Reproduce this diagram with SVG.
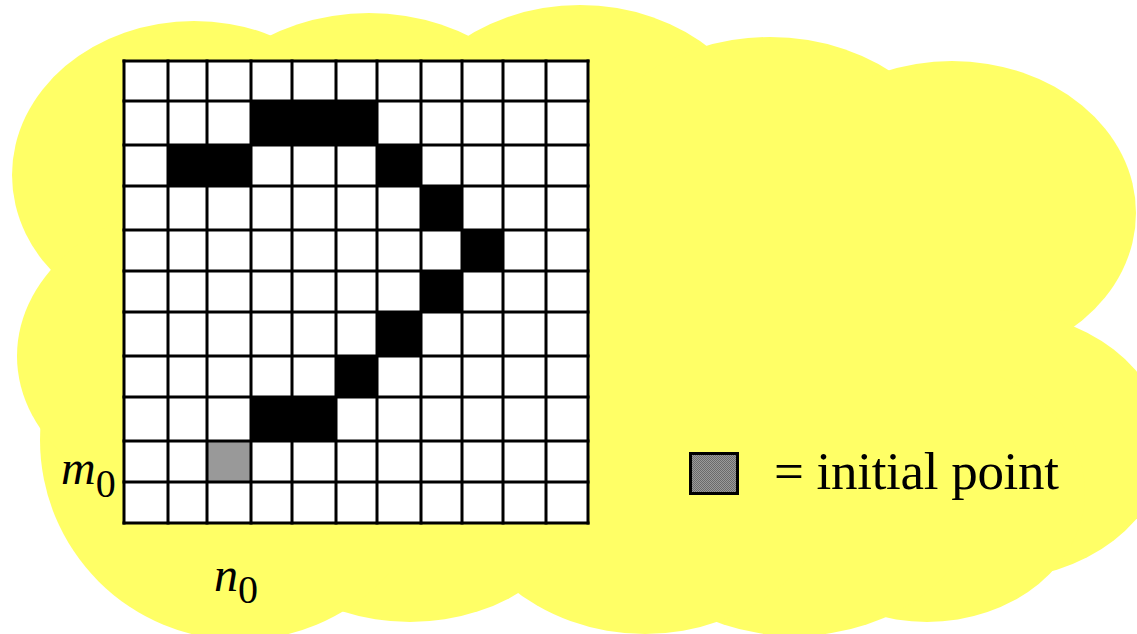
<svg xmlns="http://www.w3.org/2000/svg" width="1137" height="634" viewBox="0 0 1137 634">
  <defs>
    <style>
      .cloud { fill: #FFFF66; stroke: none; }
      .cell-black { fill: #000000; }
      .cell-gray { fill: #999999; }
      .gridline { stroke: #000000; stroke-width: 3; fill: none; stroke-linecap: square; }
      .lbl { font-family: "Liberation Serif", "Times New Roman", serif; fill: #000000; }
    </style>
    <pattern id="dots" width="2" height="2" patternUnits="userSpaceOnUse">
      <rect width="2" height="2" fill="#9a9a9a"/>
      <rect width="1" height="1" fill="#6a6a6a"/>
      <rect x="1" y="1" width="1" height="1" fill="#6a6a6a"/>
    </pattern>
  </defs>
  <rect width="1137" height="634" fill="#FFFFFF"/>
  <g id="cloud">
    <ellipse class="cloud" cx="194" cy="175" rx="182" ry="154"/>
    <ellipse class="cloud" cx="369" cy="163" rx="188" ry="150"/>
    <ellipse class="cloud" cx="580" cy="165" rx="190" ry="160"/>
    <ellipse class="cloud" cx="770" cy="197" rx="195" ry="160"/>
    <ellipse class="cloud" cx="952" cy="213" rx="184" ry="152"/>
    <ellipse class="cloud" cx="990" cy="445" rx="175" ry="135"/>
    <ellipse class="cloud" cx="927" cy="492" rx="158" ry="130"/>
    <ellipse class="cloud" cx="795" cy="486" rx="187" ry="150"/>
    <ellipse class="cloud" cx="645" cy="464" rx="195" ry="170"/>
    <ellipse class="cloud" cx="410" cy="482" rx="178" ry="140"/>
    <circle class="cloud" cx="240" cy="440" r="200"/>
    <ellipse class="cloud" cx="217" cy="356" rx="200" ry="155"/>
    <rect class="cloud" x="150" y="100" width="850" height="460"/>
  </g>
  <g id="grid">
    <rect x="124" y="61" width="464" height="462" fill="#FFFFFF"/>
    <rect class="cell-black" x="251" y="101" width="126" height="44"/>
    <rect class="cell-black" x="168" y="145" width="83" height="41"/>
    <rect class="cell-black" x="377" y="145" width="44" height="41"/>
    <rect class="cell-black" x="421" y="186" width="41" height="44"/>
    <rect class="cell-black" x="462" y="230" width="41" height="41"/>
    <rect class="cell-black" x="421" y="271" width="41" height="41"/>
    <rect class="cell-black" x="377" y="312" width="44" height="44"/>
    <rect class="cell-black" x="336" y="356" width="41" height="41"/>
    <rect class="cell-black" x="251" y="397" width="85" height="44"/>
    <rect id="initial-cell" class="cell-gray" x="207" y="441" width="44" height="41"/>
    <path class="gridline" d="M124 61V523M168 61V523M207 61V523M251 61V523M292 61V523M336 61V523M377 61V523M421 61V523M462 61V523M503 61V523M546 61V523M588 61V523"/>
    <path class="gridline" d="M124 61H588M124 101H588M124 145H588M124 186H588M124 230H588M124 271H588M124 312H588M124 356H588M124 397H588M124 441H588M124 482H588M124 523H588"/>
  </g>
  <g id="label-m0">
    <text class="lbl" x="61" y="484" font-size="48"><tspan font-style="italic">m</tspan><tspan font-size="40" dy="13">0</tspan></text>
  </g>
  <g id="label-n0">
    <text class="lbl" x="214" y="591" font-size="48"><tspan font-style="italic">n</tspan><tspan font-size="40" dy="12">0</tspan></text>
  </g>
  <g id="legend">
    <rect x="690.5" y="453.5" width="47" height="40" fill="url(#dots)" stroke="#000000" stroke-width="3"/>
    <text class="lbl" x="774" y="489" font-size="53" textLength="285" lengthAdjust="spacing">= initial point</text>
  </g>
</svg>
